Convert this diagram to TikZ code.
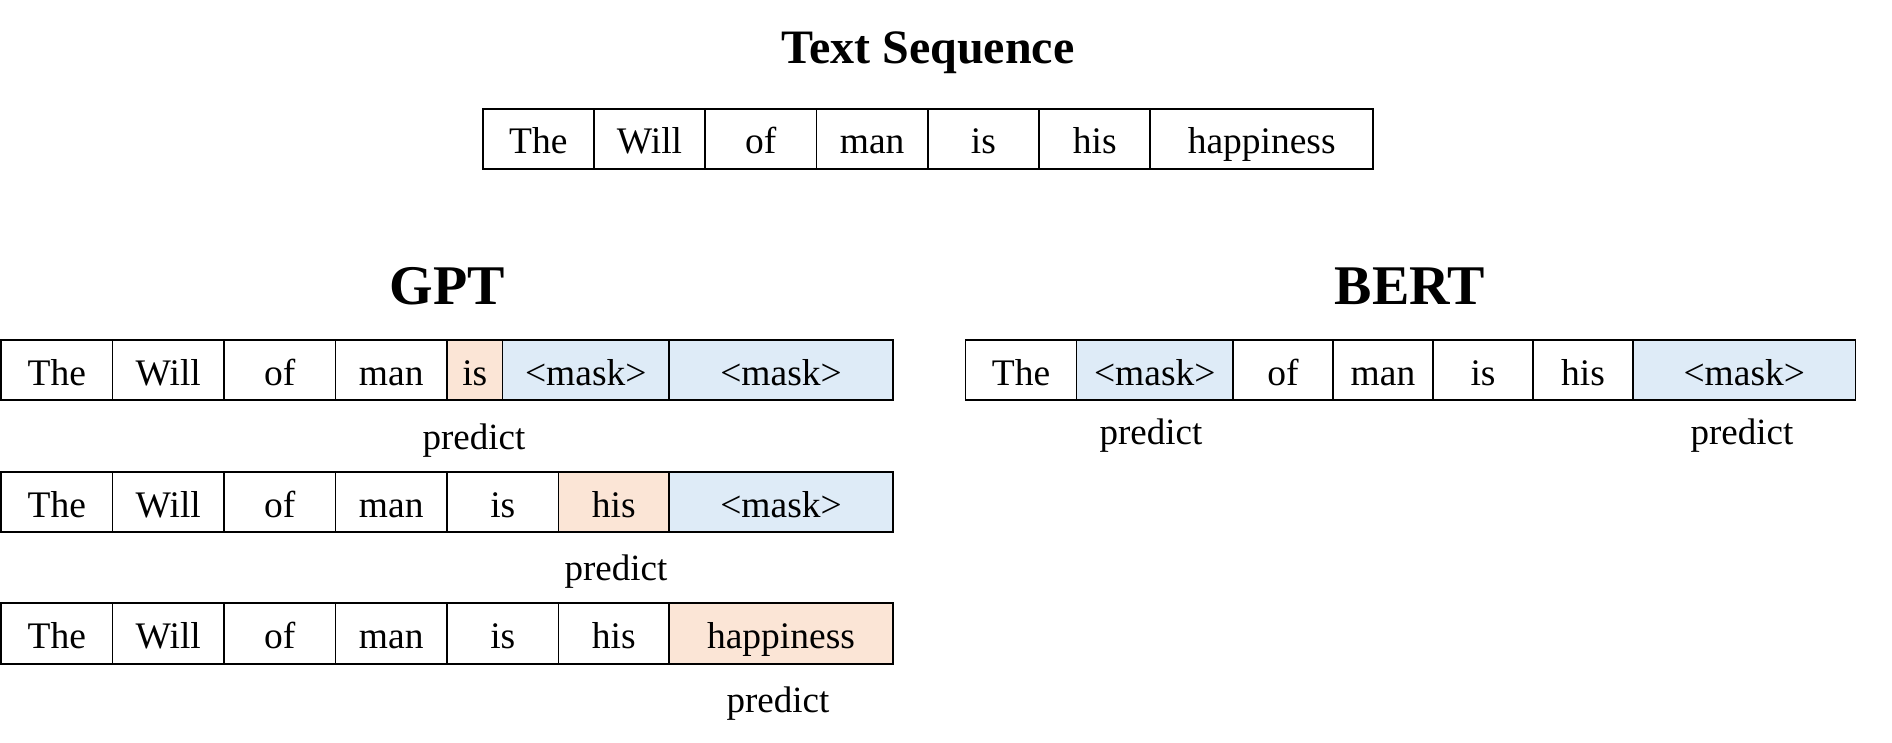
\documentclass[tikz,border=0pt]{standalone}
\usepackage{fontspec}
\setmainfont{Liberation Serif}
\usetikzlibrary{positioning}
\definecolor{orfill}{HTML}{FBE5D6}
\definecolor{blfill}{HTML}{DEEBF7}
\begin{document}
\begin{tikzpicture}[x=1pt,y=-1pt,
  cell/.style={draw=black, line width=1.9pt, minimum height=60.4, inner sep=0pt, outer sep=0pt,
    text height=32pt, text depth=1.7pt, font=\fontsize{37.5}{40}\selectfont, anchor=north west},
  nxt/.style={right=0pt of #1, anchor=west},
  hl/.style={fill=orfill},
  mk/.style={fill=blfill},
  lbl/.style={anchor=base, inner sep=0pt, font=\fontsize{37}{40}\selectfont},
  ttl/.style={anchor=base, inner sep=0pt, font=\bfseries\fontsize{56}{60}\selectfont}]
\useasboundingbox (0,0) rectangle (1892,743);

% Text sequence
\node[ttl, font=\bfseries\fontsize{48}{52}\selectfont] (tseq) at (928,63.3) {Text Sequence};
\node[cell, minimum width=111.3] (s1) at (482.6,108.6) {The};
\node[cell, minimum width=111.3, nxt=s1] (s2) {Will};
\node[cell, minimum width=111.3, nxt=s2] (s3) {of};
\node[cell, minimum width=111.3, nxt=s3] (s4) {man};
\node[cell, minimum width=111.3, nxt=s4] (s5) {is};
\node[cell, minimum width=111.3, nxt=s5] (s6) {his};
\node[cell, minimum width=222.6, nxt=s6] (s7) {happiness};

% GPT
\node[ttl] (gpt) at (447,305) {GPT};
\node[cell, minimum width=111.5] (a1) at (1,340) {The};
\node[cell, minimum width=111.5, nxt=a1] (a2) {Will};
\node[cell, minimum width=111.5, nxt=a2] (a3) {of};
\node[cell, minimum width=111.5, nxt=a3] (a4) {man};
\node[cell, hl, minimum width=55.5, nxt=a4] (a5) {is};
\node[cell, mk, minimum width=166.5, nxt=a5] (a6) {<mask>};
\node[cell, mk, minimum width=224, nxt=a6] (a7) {<mask>};
\node[lbl] (pa) at (474,449.5) {predict};

\node[cell, minimum width=111.5] (b1) at (1,472) {The};
\node[cell, minimum width=111.5, nxt=b1] (b2) {Will};
\node[cell, minimum width=111.5, nxt=b2] (b3) {of};
\node[cell, minimum width=111.5, nxt=b3] (b4) {man};
\node[cell, minimum width=111.5, nxt=b4] (b5) {is};
\node[cell, hl, minimum width=110.5, nxt=b5] (b6) {his};
\node[cell, mk, minimum width=224, nxt=b6] (b7) {<mask>};
\node[lbl] (pb) at (616,580.5) {predict};

\node[cell, minimum width=111.5] (c1) at (1,603.3) {The};
\node[cell, minimum width=111.5, nxt=c1] (c2) {Will};
\node[cell, minimum width=111.5, nxt=c2] (c3) {of};
\node[cell, minimum width=111.5, nxt=c3] (c4) {man};
\node[cell, minimum width=111.5, nxt=c4] (c5) {is};
\node[cell, minimum width=110.5, nxt=c5] (c6) {his};
\node[cell, hl, minimum width=224, nxt=c6] (c7) {happiness};
\node[lbl] (pc) at (778,712) {predict};

% BERT
\node[ttl] (bert) at (1410,305) {BERT};
\node[cell, minimum width=111] (d1) at (965.5,340) {The};
\node[cell, mk, minimum width=156.5, nxt=d1] (d2) {<mask>};
\node[cell, minimum width=100, nxt=d2] (d3) {of};
\node[cell, minimum width=100, nxt=d3] (d4) {man};
\node[cell, minimum width=100, nxt=d4] (d5) {is};
\node[cell, minimum width=100, nxt=d5] (d6) {his};
\node[cell, mk, minimum width=222.5, nxt=d6] (d7) {<mask>};
\node[lbl] (pd1) at (1151,444.5) {predict};
\node[lbl] (pd2) at (1742,444.5) {predict};
\end{tikzpicture}
\end{document}
